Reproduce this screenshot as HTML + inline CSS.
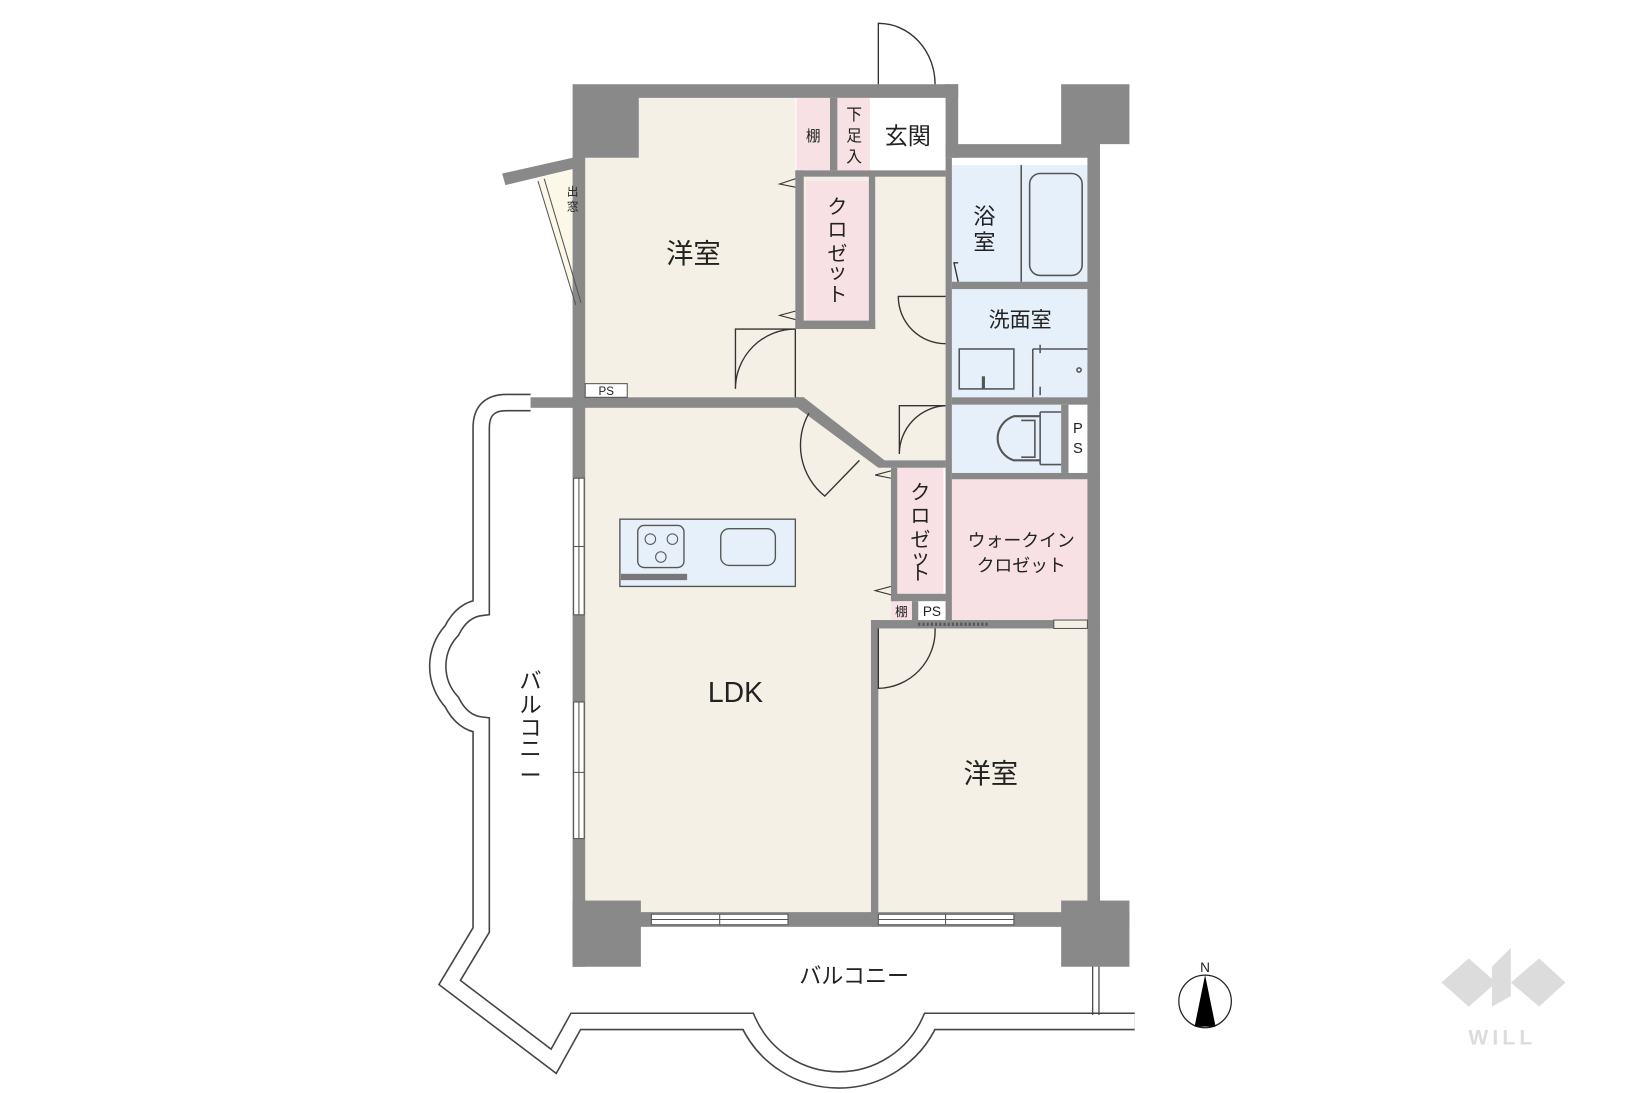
<!DOCTYPE html>
<html><head><meta charset="utf-8"><style>
html,body{margin:0;padding:0;background:#fff;}
svg{display:block;}
text{font-family:"Liberation Sans","Noto Sans CJK JP",sans-serif;fill:#222;}
</style></head><body>
<svg width="1639" height="1093" viewBox="0 0 1560 1040" xmlns="http://www.w3.org/2000/svg">
<g fill="none" stroke-linejoin="miter">
<path d="M505,383 L482,383 Q458,383 458,407 L458,578 Q440,580 430,600 A50,50 0 0 0 430,668 Q440,688 458,690 L458,885 L428,935 L527,1010 L548,972 L712,972 A95,95 0 0 0 885,972 L1080,972" stroke="#444" stroke-width="17"/>
<path d="M505,383 L482,383 Q458,383 458,407 L458,578 Q440,580 430,600 A50,50 0 0 0 430,668 Q440,688 458,690 L458,885 L428,935 L527,1010 L548,972 L712,972 A95,95 0 0 0 885,972 L1080,972" stroke="#fff" stroke-width="14"/>
<line x1="1040" y1="918" x2="1040" y2="966" stroke="#444" stroke-width="1.2"/>
<line x1="1046" y1="918" x2="1046" y2="966" stroke="#444" stroke-width="1.2"/>
</g>
<g stroke="none">
<polygon points="608,93 757,93 757,378 557,378 557,150 608,150" fill="#f5f0e5"/>
<rect x="757" y="162" width="143" height="280" fill="#f5f0e5"/>
<polygon points="557,388 763,388 838,445 852,445 852,592 836,592 836,868 557,868" fill="#f5f0e5"/>
<rect x="836" y="598" width="199" height="270" fill="#f5f0e5"/>
<rect x="758" y="93" width="32" height="69" fill="#f8e1e5"/>
<rect x="797" y="93" width="31" height="69" fill="#f8e1e5"/>
<rect x="830" y="93" width="70" height="69" fill="#fff"/>
<rect x="767" y="172" width="60" height="135" fill="#f8e1e5"/>
<rect x="906" y="157" width="129" height="111" fill="#e6f0fa"/>
<rect x="906" y="275" width="129" height="103" fill="#e6f0fa"/>
<rect x="906" y="385" width="104" height="65" fill="#e6f0fa"/>
<rect x="1017" y="385" width="18" height="65" fill="#fff"/>
<rect x="906" y="456" width="129" height="134" fill="#f8e1e5"/>
<rect x="854" y="445" width="44" height="120" fill="#f8e1e5"/>
<rect x="848" y="572" width="20" height="18" fill="#f8e1e5"/>
<rect x="874" y="572" width="26" height="18" fill="#fff"/>
<polygon points="512,170 545,160 557,168 557,290 548,290" fill="#fbf8e8"/>
</g>
<g fill="#898989">
<polygon points="545,80 912,80 912,93 608,93 608,150 557,150 557,920 545,920"/>
<rect x="545" y="857" width="65" height="63"/>
<rect x="1010" y="857" width="65" height="63"/>
<polygon points="1010,80 1075,80 1075,137 1047,137 1047,860 1035,860 1035,150 900,150 900,137 1010,137"/>
<rect x="900" y="80" width="12" height="70"/>
<rect x="545" y="868" width="530" height="14"/>
<rect x="505" y="378" width="260" height="10"/>
<polygon points="757,378 765,378 842,438 900,438 900,445 836,445 759,388"/>
<rect x="757" y="162" width="8" height="150"/>
<rect x="757" y="305" width="76" height="8"/>
<rect x="827" y="165" width="6" height="148"/>
<rect x="757" y="162" width="143" height="6"/>
<rect x="900" y="150" width="6" height="440"/>
<rect x="906" y="268" width="141" height="7"/>
<rect x="906" y="378" width="141" height="7"/>
<rect x="906" y="450" width="141" height="6"/>
<rect x="1010" y="385" width="7" height="65"/>
<rect x="848" y="445" width="6" height="127"/>
<rect x="848" y="565" width="52" height="7"/>
<rect x="829" y="590" width="218" height="8"/>
<rect x="829" y="590" width="7" height="292"/>
<rect x="868" y="572" width="6" height="18"/>
<rect x="790" y="93" width="7" height="69"/>
<polygon points="478,165 545,150 548,160 481,176"/>
</g>
<g fill="#fff" stroke="#555" stroke-width="1">
<rect x="620" y="870" width="130" height="10"/>
<rect x="836" y="870" width="129" height="10"/>
<rect x="546" y="455" width="10" height="130"/>
<rect x="546" y="668" width="10" height="130"/>
<rect x="557" y="365" width="40" height="13"/>
<rect x="1003" y="590" width="32" height="8" fill="#f5f0e5"/>
</g>
<g stroke="#555" stroke-width="1" fill="none">
<line x1="620" y1="875" x2="750" y2="875"/><line x1="685" y1="870" x2="685" y2="880"/>
<line x1="836" y1="875" x2="965" y2="875"/><line x1="900" y1="870" x2="900" y2="880"/>
<line x1="551" y1="455" x2="551" y2="585"/><line x1="546" y1="520" x2="556" y2="520"/>
<line x1="551" y1="668" x2="551" y2="798"/><line x1="546" y1="735" x2="556" y2="735"/>
<line x1="512" y1="172" x2="548" y2="290"/><line x1="518" y1="170" x2="553" y2="288"/>
<line x1="874" y1="594" x2="940" y2="594" stroke-dasharray="2,2" stroke-width="3"/>
</g>
<g stroke="#333" stroke-width="1.3" fill="none">
<path d="M836,80 L836,22 A54,58 0 0 1 890,80"/>
<path d="M757,313 L700,313 L700,370 A57,57 0 0 1 757,313"/>
<path d="M757,313 L757,378"/>
<path d="M900,282 L855,282 A45,45 0 0 0 900,327"/>
<path d="M900,386 L856,386 L856,432 A46,46 0 0 1 900,386"/>
<path d="M770,393 A62,62 0 0 0 785,472 L818,438"/>
<path d="M836,598 L836,655 A55,55 0 0 0 890,598"/>
<path d="M912,268 L908,250 L912,250"/>
</g>
<g stroke="#333" stroke-width="1" fill="none">
<path d="M757,170 L742,175 L757,178"/><path d="M757,296 L742,300 L757,304"/>
<path d="M848,448 L833,452 L848,455"/><path d="M848,558 L833,562 L848,566"/>
</g>
<g stroke="#555" stroke-width="1.5" fill="none">
<line x1="972" y1="157" x2="972" y2="268"/>
<rect x="980" y="165" width="50" height="97" rx="10"/>
<rect x="913" y="332" width="52" height="38"/>
<line x1="936" y1="358" x2="936" y2="370" stroke-width="3"/>
<path d="M983,332 L1035,332 M983,332 L983,378 M990,328 L990,336 M990,368 L990,376"/>
<circle cx="1027" cy="352" r="2"/>
<path d="M990,392 L990,442 M1010,392 L990,392 M1010,442 L990,442"/>
<path d="M990,396 L965,396 A22,22 0 0 0 965,438 L990,438" stroke-width="2"/>
<path d="M972,400 L985,400 L985,435 L972,435"/>
</g>
<rect x="590" y="494" width="167" height="64" fill="#e6f0fa" stroke="#555" stroke-width="1.3"/>
<rect x="607" y="500" width="44" height="40" rx="6" fill="none" stroke="#555" stroke-width="1.3"/>
<circle cx="619" cy="513" r="5" fill="none" stroke="#555"/><circle cx="640" cy="513" r="5" fill="none" stroke="#555"/><circle cx="629" cy="530" r="5" fill="none" stroke="#555"/>
<rect x="686" y="503" width="52" height="35" rx="8" fill="none" stroke="#555" stroke-width="1.3"/>
<rect x="591" y="546" width="63" height="6" fill="#777"/>
<text x="660" y="250" font-size="26" text-anchor="middle">洋室</text>
<text x="943" y="745" font-size="26" text-anchor="middle">洋室</text>
<text x="700" y="668" font-size="27" text-anchor="middle">LDK</text>
<text x="864" y="137" font-size="22" text-anchor="middle">玄関</text>
<text x="774" y="134" font-size="14" text-anchor="middle">棚</text>
<text x="813" y="114" font-size="15" text-anchor="middle">下</text>
<text x="813" y="134" font-size="15" text-anchor="middle">足</text>
<text x="813" y="154" font-size="15" text-anchor="middle">入</text>
<g font-size="19" text-anchor="middle">
<text x="797" y="203">ク</text><text x="797" y="225">ロ</text><text x="797" y="248">ゼ</text><text x="797" y="265">ッ</text><text x="797" y="287">ト</text>
<text x="876" y="475">ク</text><text x="876" y="497">ロ</text><text x="876" y="520">ゼ</text><text x="876" y="537">ッ</text><text x="876" y="552">ト</text>
</g>
<text x="937" y="213" font-size="21" text-anchor="middle">浴</text>
<text x="937" y="238" font-size="21" text-anchor="middle">室</text>
<text x="971" y="311" font-size="20" text-anchor="middle">洗面室</text>
<text x="972" y="520" font-size="17" text-anchor="middle">ウォークイン</text>
<text x="972" y="544" font-size="17" text-anchor="middle">クロゼット</text>
<text x="1026" y="412" font-size="14" text-anchor="middle">P</text>
<text x="1026" y="431" font-size="14" text-anchor="middle">S</text>
<text x="577" y="376" font-size="11" text-anchor="middle">PS</text>
<text x="887" y="586" font-size="13" text-anchor="middle">PS</text>
<text x="858" y="586" font-size="12" text-anchor="middle">棚</text>
<text x="545" y="186" font-size="11" text-anchor="middle">出</text>
<text x="545" y="200" font-size="11" text-anchor="middle">窓</text>
<g font-size="21" text-anchor="middle">
<text x="505" y="655">バ</text><text x="505" y="678">ル</text><text x="505" y="700">コ</text><text x="505" y="720">ニ</text><text x="505" y="745">ー</text>
</g>
<text x="813" y="936" font-size="21" text-anchor="middle">バルコニー</text>
<text x="1147" y="925" font-size="13" text-anchor="middle">N</text>
<circle cx="1147" cy="953" r="25" fill="none" stroke="#222" stroke-width="1.2"/>
<polygon points="1147,928 1137,977 1157,977" fill="#000"/>
<g fill="#dcdcdc">
<polygon points="1372,935 1398,912 1424,935 1398,958"/>
<polygon points="1420,920 1438,902 1438,948 1420,958"/>
<polygon points="1438,935 1465,912 1490,935 1465,958"/>
</g>
<text x="1430" y="994" font-size="20" font-weight="bold" text-anchor="middle" style="fill:#dcdcdc;letter-spacing:4px">WILL</text>
</svg>
</body></html>
